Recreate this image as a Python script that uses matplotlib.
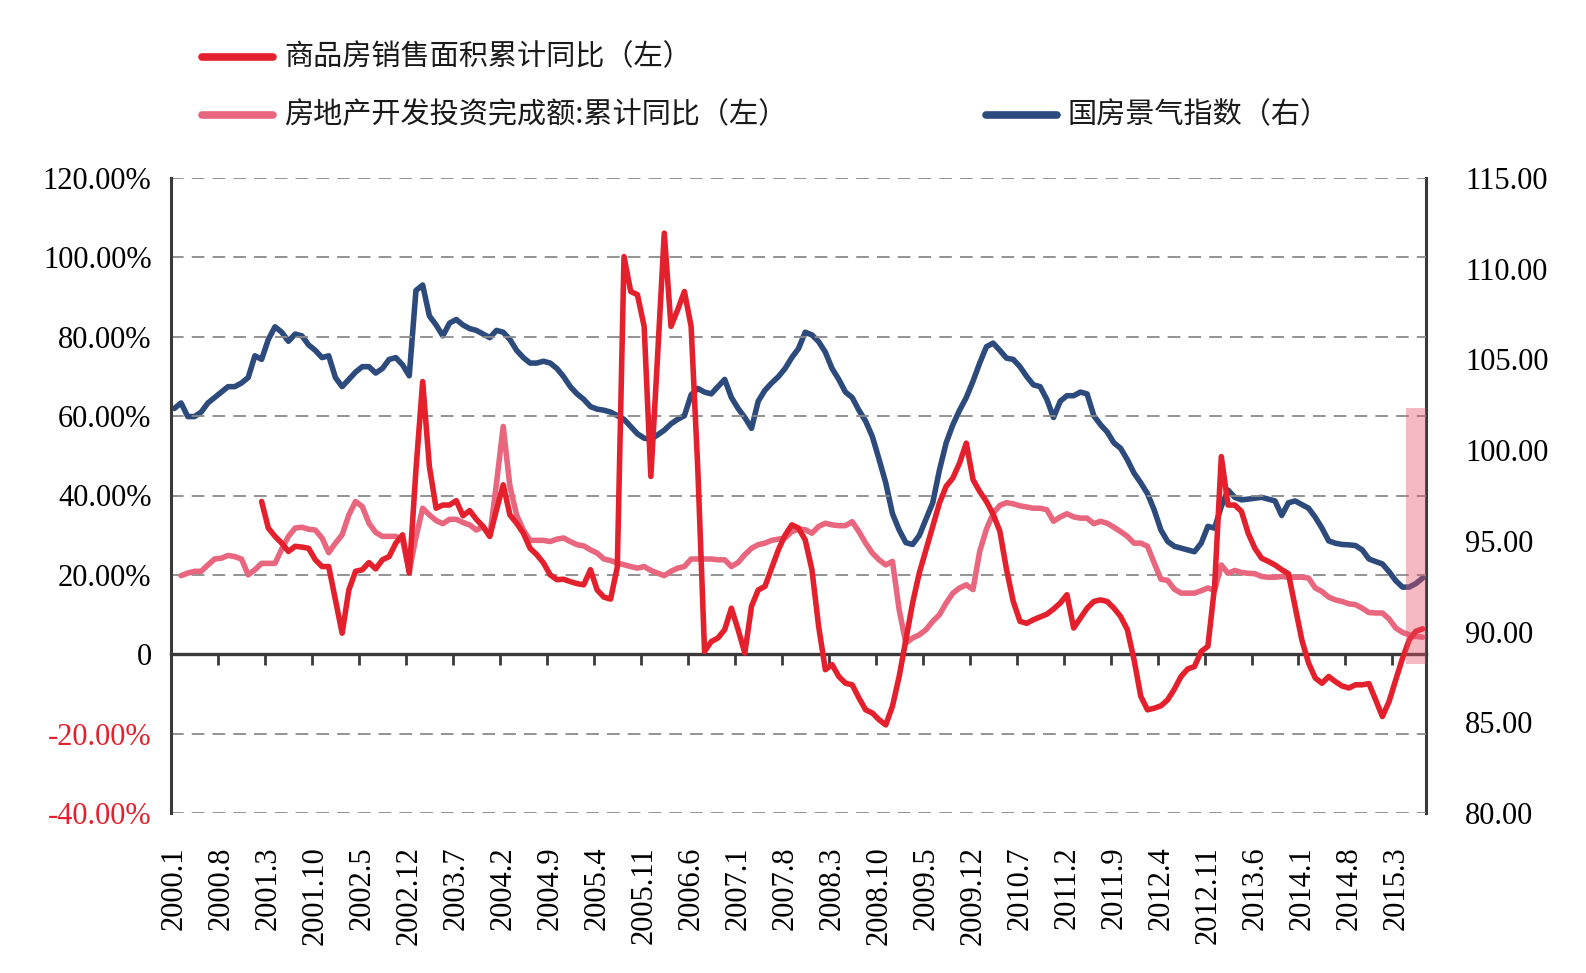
import numpy as np
import matplotlib
matplotlib.use("Agg")
import matplotlib.pyplot as plt
from matplotlib.lines import Line2D

nan = np.nan

# monthly categories 2000.1 ... 2015.7
months = [f"{2000 + k // 12}.{k % 12 + 1}" for k in range(187)]
tick_labels = months[::7]

# 商品房销售面积累计同比 (%)
sales_area = [
    nan, nan, nan, nan, nan, nan, nan, nan, nan, nan, nan, nan,
    nan, 38.5, 31.8, 29.7, 28.0, 25.9, 27.2, 27.0, 26.7, 23.8, 22.1, 22.1,
    13.7, 5.3, 16.2, 20.9, 21.3, 23.1, 21.5, 23.8, 24.6, 28.0, 30.1, 20.5,
    46.5, 68.7, 47.3, 36.8, 37.6, 37.6, 38.7, 34.9, 36.2, 34.0, 32.2, 29.7,
    36.4, 42.7, 35.1, 33.0, 30.5, 26.7, 25.1, 23.0, 20.0, 18.8, 18.9, 18.3,
    17.8, 17.5, 21.3, 16.2, 14.4, 13.9, 22.0, 100.2, 91.4, 90.6, 82.6, 44.8,
    75.0, 106.1, 82.6, 86.8, 91.4, 82.6, 46.5, 0.7, 3.2, 4.1, 6.2, 11.6,
    6.2, 0.3, 12.1, 16.2, 17.1, 21.7, 26.3, 30.0, 32.6, 31.8, 28.8, 21.3,
    7.0, -3.9, -2.6, -5.6, -7.3, -7.7, -11.0, -14.0, -14.8, -16.5, -17.8, -13.1,
    -5.6, 3.7, 12.9, 20.5, 26.3, 32.2, 38.1, 42.3, 44.4, 48.2, 53.2, 44.0,
    41.0, 38.5, 35.3, 31.0, 21.3, 13.3, 8.3, 7.8, 8.7, 9.4, 10.1, 11.4,
    12.9, 15.0, 6.6, 9.1, 11.6, 13.3, 13.7, 13.3, 11.6, 9.5, 6.2, -1.4,
    -10.6, -14.0, -13.6, -13.0, -11.5, -8.8, -5.6, -3.7, -3.1, 0.7, 2.0, 17.1,
    49.8, 37.6, 37.6, 36.0, 30.5, 26.7, 24.2, 23.4, 22.5, 21.3, 20.3, 12.0,
    3.6, -2.2, -6.0, -7.3, -5.6, -6.9, -8.0, -8.5, -7.7, -7.7, -7.4, -11.5,
    -15.7, -11.9, -6.4, -1.0, 3.6, 5.8, 6.4,
]

# 房地产开发投资完成额:累计同比 (%)
investment = [
    nan, 19.8, 20.45, 20.9, 20.9, 22.5, 24.0, 24.2, 24.9, 24.6, 24.0, 20.0,
    21.3, 22.9, 22.9, 22.9, 26.5, 29.7, 31.8, 32.0, 31.5, 31.3, 29.3, 25.6,
    28.0, 30.1, 35.1, 38.5, 37.2, 33.0, 30.7, 29.7, 29.7, 29.7, 28.8, 20.9,
    29.5, 36.8, 35.1, 33.7, 32.9, 34.0, 34.0, 33.2, 32.6, 31.3, 32.2, 29.7,
    43.1, 57.4, 42.3, 35.1, 31.3, 28.7, 28.7, 28.7, 28.4, 29.0, 29.3, 28.4,
    27.6, 27.3, 26.3, 25.5, 24.0, 23.6, 23.0, 22.55, 22.1, 21.7, 22.1, 21.1,
    20.45, 19.8, 20.9, 21.7, 22.1, 24.0, 24.0, 24.0, 24.0, 23.8, 23.8, 22.1,
    23.1, 25.1, 26.7, 27.6, 28.0, 28.7, 29.0, 29.3, 30.9, 31.5, 31.4, 30.5,
    32.2, 33.0, 32.6, 32.4, 32.4, 33.4, 30.9, 28.0, 25.5, 23.8, 22.5, 23.4,
    11.2, 2.8, 4.1, 4.9, 6.2, 8.3, 9.95, 12.9, 15.4, 16.7, 17.5, 16.3,
    25.9, 31.5, 35.5, 37.5, 38.2, 37.9, 37.4, 37.1, 36.8, 36.8, 36.4, 33.5,
    34.6, 35.4, 34.6, 34.3, 34.3, 32.9, 33.5, 33.0, 32.0, 30.9, 29.7, 28.0,
    28.0, 27.2, 23.0, 18.9, 18.6, 16.4, 15.4, 15.4, 15.4, 16.0, 16.7, 16.1,
    22.5, 20.4, 21.1, 20.6, 20.4, 20.3, 19.6, 19.4, 19.4, 19.6, 19.4, 19.4,
    19.4, 19.2, 16.7, 15.8, 14.4, 13.7, 13.3, 12.7, 12.5, 11.6, 10.5, 10.4,
    10.4, 8.9, 6.6, 5.5, 4.9, 4.5, 4.3,
]

# 国房景气指数
climate_index = [
    102.3, 102.6, 101.85, 101.85, 102.1, 102.6, 102.9, 103.2, 103.5, 103.5, 103.7, 104.0,
    105.2, 105.0, 106.1, 106.8, 106.5, 106.0, 106.4, 106.3, 105.8, 105.5, 105.1, 105.2,
    104.0, 103.5, 103.9, 104.3, 104.6, 104.6, 104.25, 104.5, 105.0, 105.1, 104.7, 104.1,
    108.8, 109.1, 107.4, 106.9, 106.3, 107.0, 107.2, 106.9, 106.7, 106.6, 106.4, 106.2,
    106.6, 106.5, 106.1, 105.5, 105.1, 104.8, 104.8, 104.9, 104.8, 104.5, 104.05, 103.5,
    103.1, 102.8, 102.4, 102.26, 102.2, 102.1, 101.9, 101.7, 101.3, 100.9, 100.66, 100.6,
    100.84, 101.1, 101.45, 101.7, 101.9, 103.05, 103.4, 103.2, 103.1, 103.5, 103.9, 102.9,
    102.3, 101.8, 101.2, 102.7, 103.3, 103.7, 104.05, 104.5, 105.1, 105.6, 106.5, 106.35,
    105.98, 105.4, 104.5, 103.9, 103.2, 102.9, 102.2, 101.6, 100.75, 99.5, 98.2, 96.5,
    95.6, 94.9, 94.8, 95.3, 96.2, 97.1, 98.9, 100.4, 101.4, 102.2, 102.9, 103.8,
    104.8, 105.7, 105.9, 105.5, 105.07, 105.0, 104.6, 104.06, 103.6, 103.5, 102.8, 101.8,
    102.7, 103.0, 103.0, 103.2, 103.1, 101.9, 101.4, 101.0, 100.4, 100.1, 99.47, 98.73,
    98.2, 97.6, 96.7, 95.6, 94.97, 94.7, 94.6, 94.5, 94.4, 94.87, 95.8, 95.7,
    96.9, 97.8, 97.4, 97.26, 97.3, 97.35, 97.4, 97.3, 97.2, 96.4, 97.1, 97.2,
    97.0, 96.8, 96.3, 95.7, 95.0, 94.87, 94.8, 94.78, 94.74, 94.5, 94.0, 93.86,
    93.73, 93.3, 92.8, 92.45, 92.45, 92.65, 92.95,
]

left_ticks = [120, 100, 80, 60, 40, 20, 0, -20, -40]
right_ticks = [115, 110, 105, 100, 95, 90, 85, 80]

# highlighted recent months
band_x = [183.5, 186.5]
band_lo, band_hi = -2.5, 62.0

RED = "#E3202C"
PINK = "#E8667E"
BLUE = "#2C4A7C"
AXIS = "#3A3A3A"
SERIF = ["Liberation Serif", "DejaVu Serif"]
CJK = ["Noto Sans CJK SC", "DejaVu Sans"]
LW = 4.0

W, H = 1586, 973
fig = plt.figure(figsize=(W / 100, H / 100), dpi=100)
ax = fig.add_axes([171 / W, 1 - 813 / H, (1426 - 171) / W, (813 - 178) / H])
ax2 = ax.twinx()
ax.set_zorder(ax2.get_zorder() + 1)
ax.patch.set_visible(False)

x = np.arange(len(months))

ax2.plot(x, climate_index, color=BLUE, lw=LW, solid_capstyle="round")
ax.plot(x, investment, color=PINK, lw=LW, solid_capstyle="round", zorder=3)
ax.plot(x, sales_area, color=RED, lw=LW, solid_capstyle="round", zorder=4)
ax.fill_between(band_x, band_lo, band_hi, color="#E85064", alpha=0.4,
                lw=0, zorder=6)

ax.set_xlim(-0.5, len(months) - 0.5)
ax.set_ylim(-40, 120)
ax2.set_ylim(80, 115)

# left axis
ax.set_yticks(left_ticks)
ax.set_yticklabels([("0" if v == 0 else f"{v:.2f}%") for v in left_ticks])
for lbl, v in zip(ax.get_yticklabels(), left_ticks):
    lbl.set_color(RED if v < 0 else "black")
ax.tick_params(axis="y", length=0, pad=14, labelsize=22)
for lbl in ax.get_yticklabels():
    lbl.set_fontfamily(SERIF)
ax.yaxis.grid(True, color="#8A8A8A", lw=1.3, linestyle=(0, (7, 4.5)))
for gl, v in zip(ax.yaxis.get_gridlines(), left_ticks):
    if v == 0:
        gl.set_visible(False)

# right axis
ax2.set_yticks(right_ticks)
ax2.set_yticklabels([f"{v:.2f}" for v in right_ticks])
ax2.tick_params(axis="y", length=0, pad=28, labelsize=22)
for lbl in ax2.get_yticklabels():
    lbl.set_fontfamily(SERIF)

# category labels at the bottom
ax.set_xticks(x[::7])
ax.set_xticklabels(tick_labels, rotation=90, fontfamily=SERIF)
ax.tick_params(axis="x", length=0, pad=24, labelsize=22)

# zero line with tick marks between categories
zero_axis = ax.secondary_xaxis(0.25)
zero_axis.set_xticks(x[::7][1:] - 0.5)
zero_axis.tick_params(axis="x", length=8, width=2.0, color=AXIS,
                      labelbottom=False, direction="out")
zero_axis.spines["bottom"].set_linewidth(2.4)
zero_axis.spines["bottom"].set_color(AXIS)

for a in (ax, ax2):
    for side in ("top", "bottom", "left", "right"):
        a.spines[side].set_visible(False)
ax.spines["left"].set_visible(True)
ax.spines["left"].set_linewidth(2.2)
ax.spines["left"].set_color(AXIS)
ax2.spines["right"].set_visible(True)
ax2.spines["right"].set_linewidth(2.2)
ax2.spines["right"].set_color(AXIS)

# legend
legend_items = [
    ("商品房销售面积累计同比（左）", RED, 202, 57),
    ("房地产开发投资完成额:累计同比（左）", PINK, 202, 115),
    ("国房景气指数（右）", BLUE, 986, 115),
]
for text, color, x0, y0 in legend_items:
    fig.add_artist(Line2D([x0 / W, (x0 + 71) / W], [1 - y0 / H, 1 - y0 / H],
                          transform=fig.transFigure, color=color, lw=5.5,
                          solid_capstyle="round"))
    fig.text((x0 + 82) / W, 1 - y0 / H, text, fontsize=21, family=CJK,
             va="center", ha="left", color="#1A1A1A")

fig.savefig("out.png", dpi=100)
